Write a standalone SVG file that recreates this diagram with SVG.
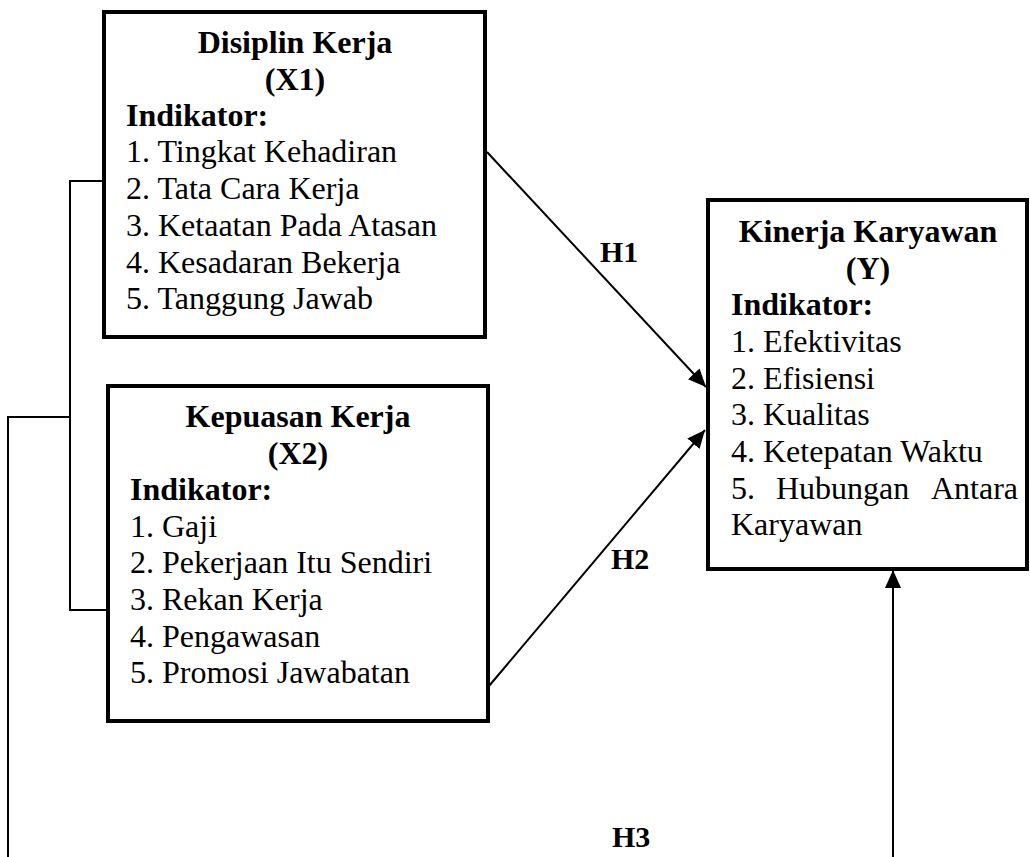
<svg xmlns="http://www.w3.org/2000/svg" width="1030" height="857" viewBox="0 0 1030 857">
<defs>
<style>
.box{fill:#fff;stroke:#000;stroke-width:4}
.t{font-family:"Liberation Serif","Times New Roman",serif;font-size:32px;fill:#000}
.b{font-weight:bold}
.c{text-anchor:middle}
.h{font-family:"Liberation Serif","Times New Roman",serif;font-size:30px;font-weight:bold;fill:#000}
.ln{fill:none;stroke:#000;stroke-width:2}
</style>
<marker id="arr" markerUnits="userSpaceOnUse" markerWidth="18" markerHeight="16" viewBox="0 0 18 16" refX="18" refY="8" orient="auto">
<path d="M0,0 L18,8 L0,16 Z" fill="#000"/>
</marker>
</defs>
<rect width="1030" height="857" fill="#fff"/>
<g id="connectors">
<polyline class="ln" points="104,181 70,181 70,610 108,610"/>
<polyline class="ln" points="70,417 8,417 8,857"/>
<line class="ln" x1="487" y1="152" x2="706" y2="387" marker-end="url(#arr)"/>
<line class="ln" x1="489" y1="686" x2="705" y2="430" marker-end="url(#arr)"/>
<line class="ln" x1="893" y1="857" x2="893" y2="570" marker-end="url(#arr)"/>
<text class="h" x="600" y="262">H1</text>
<text class="h" x="611" y="569">H2</text>
<text class="h" x="612" y="847">H3</text>
</g>
<g id="x1">
<rect class="box" x="104" y="12" width="381" height="325"/>
<text class="t b c" x="295" y="53">Disiplin Kerja</text>
<text class="t b c" x="295" y="90">(X1)</text>
<text class="t b" x="126" y="126">Indikator:</text>
<text class="t" x="126" y="162">1. Tingkat Kehadiran</text>
<text class="t" x="126" y="199">2. Tata Cara Kerja</text>
<text class="t" x="126" y="236">3. Ketaatan Pada Atasan</text>
<text class="t" x="126" y="273">4. Kesadaran Bekerja</text>
<text class="t" x="126" y="309">5. Tanggung Jawab</text>
</g>
<g id="x2">
<rect class="box" x="108" y="386" width="380" height="335"/>
<text class="t b c" x="298" y="427">Kepuasan Kerja</text>
<text class="t b c" x="298" y="464">(X2)</text>
<text class="t b" x="130" y="500">Indikator:</text>
<text class="t" x="130" y="537">1. Gaji</text>
<text class="t" x="130" y="573">2. Pekerjaan Itu Sendiri</text>
<text class="t" x="130" y="610">3. Rekan Kerja</text>
<text class="t" x="130" y="647">4. Pengawasan</text>
<text class="t" x="130" y="683">5. Promosi Jawabatan</text>
</g>
<g id="y">
<rect class="box" x="708" y="200" width="319" height="369"/>
<text class="t b c" x="868" y="242">Kinerja Karyawan</text>
<text class="t b c" x="868" y="279">(Y)</text>
<text class="t b" x="731" y="315">Indikator:</text>
<text class="t" x="731" y="352">1. Efektivitas</text>
<text class="t" x="731" y="389">2. Efisiensi</text>
<text class="t" x="731" y="425">3. Kualitas</text>
<text class="t" x="731" y="462">4. Ketepatan Waktu</text>
<text class="t" x="731" y="499">5.</text>
<text class="t" x="776" y="499">Hubungan</text>
<text class="t" x="1018" y="499" text-anchor="end">Antara</text>
<text class="t" x="731" y="535">Karyawan</text>
</g>
</svg>
